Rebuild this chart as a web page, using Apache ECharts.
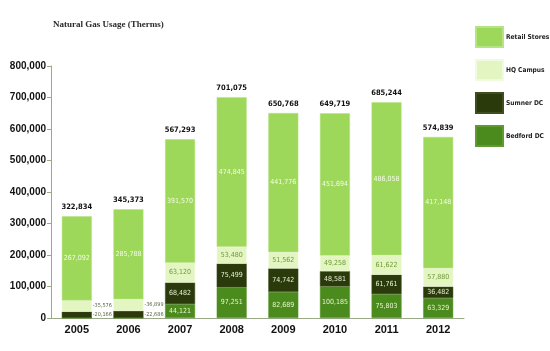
<!DOCTYPE html>
<html>
<head>
<meta charset="utf-8">
<script src="https://cdn.jsdelivr.net/npm/echarts@6/dist/echarts.min.js"></script>
<style>
  html, body { margin: 0; padding: 0; background: #fff; }
  #chart { width: 550px; height: 351px; }
</style>
</head>
<body>
<div id="chart"></div>
<script>
// data
const years = ['2005', '2006', '2007', '2008', '2009', '2010', '2011', '2012'];
const retailStores = [267092, 285788, 391570, 474845, 441776, 451694, 486058, 417148];
const hqCampus     = [35576, 36899, 63120, 53480, 51562, 49258, 61622, 57880];
const sumnerDC     = [20166, 22686, 68482, 75499, 74742, 48581, 61761, 36482];
const bedfordDC    = [0, 0, 44121, 97251, 82689, 100185, 75803, 63329];
const totals       = [322834, 345373, 567293, 701075, 650768, 649719, 685244, 574839];
const yTicks = [0, 100000, 200000, 300000, 400000, 500000, 600000, 700000, 800000];

const fmt = v => Number(v).toLocaleString('en-US');
const smallFont = '"DejaVu Sans Condensed", sans-serif';

function segLabel(color) {
  return {
    show: true,
    fontFamily: smallFont,
    fontSize: 7,
    color: color,
    formatter: p => (p.value ? fmt(p.value) : '')
  };
}
// 2005 and 2006: HQ / Sumner values are written beside the bar with a dash
function withOutside(values) {
  return values.map((v, i) => {
    if (i < 2) {
      return {
        value: v,
        label: { position: 'right', distance: 1, fontSize: 5.5, color: '#55613f', formatter: p => '-' + fmt(p.value) }
      };
    }
    return v;
  });
}

const chart = echarts.init(document.getElementById('chart'), null, { renderer: 'canvas' });

const barW = 30;
chart.setOption({
  backgroundColor: '#fff',
  animation: false,
  title: {
    text: 'Natural Gas Usage (Therms)',
    left: 48, top: 15,
    textStyle: { fontFamily: '"Liberation Serif", serif', fontSize: 9, fontWeight: 'bold', color: '#2a2a2a' }
  },
  legend: {
    orient: 'vertical',
    left: 475, top: 26, padding: 0,
    itemWidth: 27, itemHeight: 20, itemGap: 11,
    icon: 'rect',
    data: ['Retail Stores', 'HQ Campus', 'Sumner DC', 'Bedford DC'],
    textStyle: { fontFamily: smallFont, fontSize: 6.6, fontWeight: 'bold', color: '#222', padding: [0, 0, 0, -2] }
  },
  grid: { left: 51, right: 86, top: 66, bottom: 33 },
  xAxis: {
    type: 'category',
    data: years,
    axisLine: { lineStyle: { color: '#9aaa88', width: 1 } },
    axisTick: { show: false },
    axisLabel: { fontFamily: '"Liberation Sans", sans-serif', fontWeight: 'bold', fontSize: 11, color: '#111', margin: 6 }
  },
  yAxis: {
    type: 'value',
    min: yTicks[0], max: yTicks[yTicks.length - 1], interval: 100000,
    axisLine: { show: true, lineStyle: { color: '#9aaa88', width: 1 } },
    axisTick: { show: true, length: 4, lineStyle: { color: '#9aaa88' } },
    splitLine: { show: false },
    axisLabel: { fontFamily: '"Liberation Sans", sans-serif', fontWeight: 'bold', fontSize: 10, color: '#111', margin: 5, formatter: v => fmt(v) }
  },
  series: [
    {
      name: 'Bedford DC', type: 'bar', stack: 'gas', barWidth: barW,
      data: bedfordDC,
      itemStyle: { color: '#4b8a1c', borderColor: '#5f9a32', borderWidth: 0.5 },
      label: segLabel('#e8f5d0')
    },
    {
      name: 'Sumner DC', type: 'bar', stack: 'gas', barWidth: barW,
      data: withOutside(sumnerDC),
      itemStyle: { color: '#2a3a0a', borderColor: '#3e4e20', borderWidth: 0.5 },
      label: segLabel('#e8f0d8')
    },
    {
      name: 'HQ Campus', type: 'bar', stack: 'gas', barWidth: barW,
      data: withOutside(hqCampus),
      itemStyle: { color: '#e3f5c0', borderColor: '#f0fadc', borderWidth: 0.5 },
      label: segLabel('#6e9a3a')
    },
    {
      name: 'Retail Stores', type: 'bar', stack: 'gas', barWidth: barW,
      data: retailStores,
      itemStyle: { color: '#9ed85a', borderColor: '#b6e384', borderWidth: 0.5 },
      label: segLabel('#f4fbe8')
    },
    {
      name: 'Total', type: 'bar', stack: 'gas', barWidth: barW,
      data: totals.map(() => 0),
      itemStyle: { color: 'transparent' },
      label: {
        show: true, position: 'top', distance: 5,
        fontFamily: smallFont, fontSize: 7.5, fontWeight: 'bold', color: '#111',
        formatter: p => fmt(totals[p.dataIndex])
      }
    }
  ]
});
</script>
</body>
</html>
